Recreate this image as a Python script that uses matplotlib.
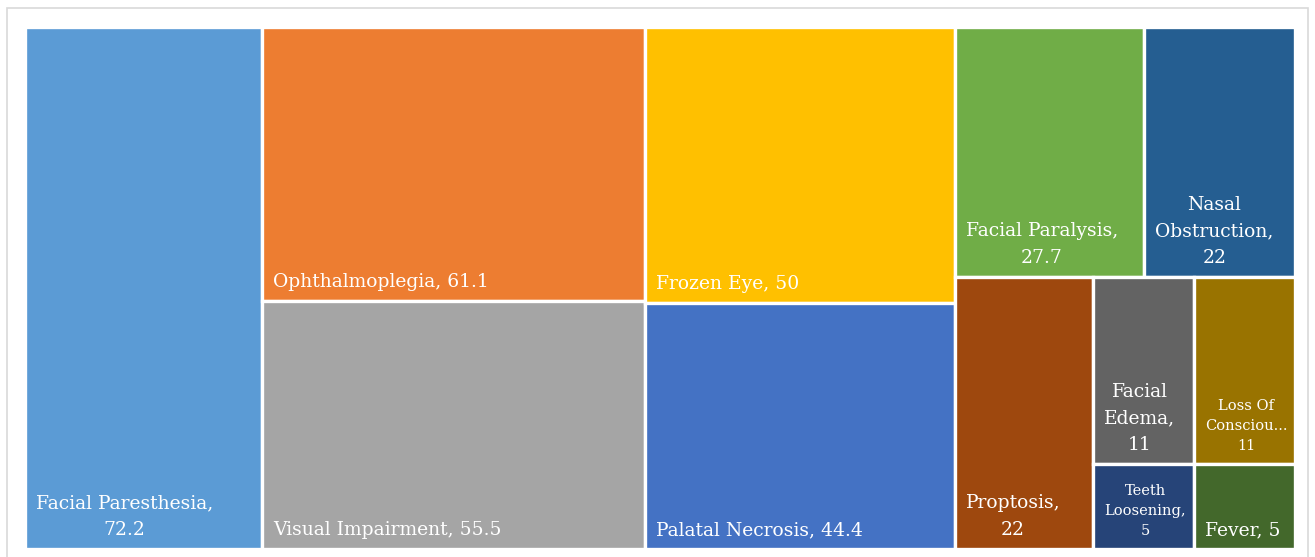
import matplotlib
matplotlib.use("Agg")
import matplotlib.pyplot as plt
from matplotlib.patches import Rectangle

names = ["Facial Paresthesia", "Ophthalmoplegia", "Visual Impairment", "Frozen Eye",
         "Palatal Necrosis", "Facial Paralysis", "Nasal Obstruction", "Proptosis",
         "Facial Edema", "Loss Of Consciousness", "Teeth Loosening", "Fever"]
values = [72.2, 61.1, 55.5, 50, 44.4, 27.7, 22, 22, 11, 11, 5, 5]
# label text as Excel wraps it
labels = ["Facial Paresthesia,\n72.2", "Ophthalmoplegia, 61.1", "Visual Impairment, 55.5",
          "Frozen Eye, 50", "Palatal Necrosis, 44.4", "Facial Paralysis,\n27.7",
          "Nasal\nObstruction,\n22", "Proptosis,\n22", "Facial\nEdema,\n11",
          "Loss Of\nConsciou...\n11", "Teeth\nLoosening,\n5", "Fever, 5"]
colors = ["#5B9BD5", "#ED7D31", "#A5A5A5", "#FFC000", "#4472C4", "#70AD47",
          "#255E91", "#9E480E", "#636363", "#997300", "#264478", "#43682B"]
small = ["Loss Of Consciousness", "Teeth Loosening"]


def worst(row, side):
    s = sum(row)
    return max(max(side * side * a / (s * s), s * s / (side * side * a)) for a in row)


def squarify(vals, x, y, w, h):
    total = sum(vals)
    areas = [v / total * w * h for v in vals]
    rects = []
    while areas:
        side = min(w, h)
        row = [areas[0]]
        i = 1
        while i < len(areas) and worst(row + [areas[i]], side) <= worst(row, side):
            row.append(areas[i])
            i += 1
        areas = areas[i:]
        thick = sum(row) / side
        if w >= h:
            yy = y
            for a in row:
                rects.append((x, yy, thick, a / thick))
                yy += a / thick
            x += thick
            w -= thick
        else:
            xx = x
            for a in row:
                rects.append((xx, y, a / thick, thick))
                xx += a / thick
            y += thick
            h -= thick
    return rects


W, H = 1270.0, 522.0
stretch = 1.2  # excel seems to lay out in a slightly wider space
rects = [(x / stretch, y, w / stretch, h) for x, y, w, h in squarify(values, 0, 0, W * stretch, H)]

fig = plt.figure(figsize=(13.15, 5.57), dpi=100)
fig.patches.append(Rectangle((7 / 1315, -0.01), 1301 / 1315, 1 - 8 / 557 + 0.01,
                             transform=fig.transFigure, fill=False,
                             edgecolor="#D9D9D9", linewidth=1.2))
ax = fig.add_axes([25 / 1315, 8 / 557, W / 1315, H / 557])
ax.set_xlim(0, W)
ax.set_ylim(H, 0)
ax.axis("off")

for (x, y, w, h), lab, c, n in zip(rects, labels, colors, names):
    ax.add_patch(Rectangle((x, y), w, h, facecolor=c, edgecolor="white", linewidth=2.4))
    if n in small:
        fs, ls = 10.5, 1.55
    else:
        fs, ls = 13.5, 1.62
    ax.text(x + 11, y + h - 14, lab, color="white", fontsize=fs, family="DejaVu Serif",
            ha="left", va="baseline", multialignment="center", linespacing=ls)

fig.savefig("out.png", dpi=100)
